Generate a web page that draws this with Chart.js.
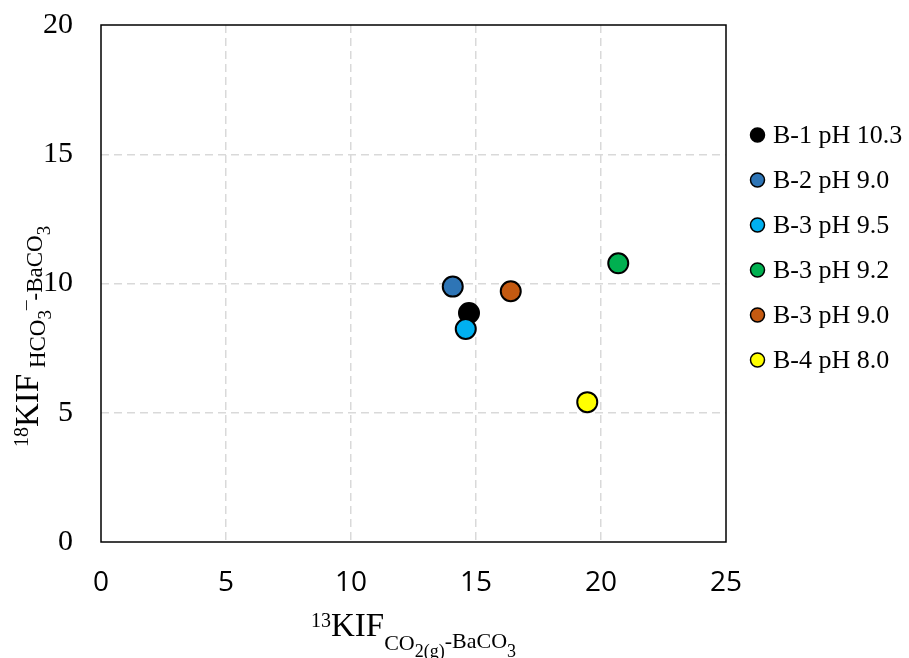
<!DOCTYPE html>
<html>
<head>
<meta charset="utf-8">
<script src="https://cdn.jsdelivr.net/npm/chart.js@4.4.0/dist/chart.umd.min.js"></script>
<style>
    body { margin: 0; background: #fff; }
    canvas { display: block; }
</style>
</head>
<body>
<canvas id="kifChart" width="909" height="658"></canvas>
<script>
const seriesLabels = ["B-1 pH 10.3", "B-2 pH 9.0", "B-3 pH 9.5", "B-3 pH 9.2", "B-3 pH 9.0", "B-4 pH 8.0"];
const kif13 = [14.72, 14.07, 14.59, 20.69, 16.39, 19.45];
const kif18 = [8.86, 9.88, 8.24, 10.78, 9.70, 5.41];
const seriesColors = ["#000000", "#2E75B6", "#00B0F0", "#00B050", "#C55A11", "#FFFF00"];

const serif = "'Liberation Serif', 'Times New Roman', serif";

// title pieces: [text, font size, baseline shift]
const xTitleParts = [
    ["13", 20, -9], ["KIF", 33, 0], ["CO", 22, 14], ["2(g)", 18, 21], ["-BaCO", 22, 12], ["3", 18, 21]
];
const yTitleParts = [
    ["18", 20, -10], ["KIF", 33, 0], [" HCO", 23, 7], ["3", 19, 13], ["\u00AF", 19, 2], ["-BaCO", 23, 4], ["3", 19, 12]
];

function drawParts(ctx, parts, x, y) {
    parts.forEach(([text, size, dy]) => {
        ctx.font = `${size}px ${serif}`;
        ctx.fillText(text, x, y + dy);
        x += ctx.measureText(text).width;
    });
}

function partsWidth(ctx, parts) {
    let w = 0;
    parts.forEach(([text, size]) => {
        ctx.font = `${size}px ${serif}`;
        w += ctx.measureText(text).width;
    });
    return w;
}

const decorPlugin = {
    id: "decor",
    afterDatasetsDraw(chart) {
        const { ctx, chartArea } = chart;
        ctx.save();
        ctx.strokeStyle = "#000";
        ctx.lineWidth = 1.5;
        ctx.strokeRect(chartArea.left, chartArea.top, chartArea.right - chartArea.left, chartArea.bottom - chartArea.top);

        ctx.fillStyle = "#000";
        ctx.textBaseline = "alphabetic";
        ctx.textAlign = "left";

        // x axis title
        const xw = partsWidth(ctx, xTitleParts);
        drawParts(ctx, xTitleParts, (chartArea.left + chartArea.right) / 2 - xw / 2, 636);

        // y axis title, rotated
        ctx.save();
        ctx.translate(38, 447);
        ctx.rotate(-Math.PI / 2);
        drawParts(ctx, yTitleParts, 0, 0);
        ctx.restore();

        // legend
        seriesLabels.forEach((label, i) => {
            const y = 135 + i * 45;
            ctx.beginPath();
            ctx.arc(757.5, y, 7, 0, Math.PI * 2);
            ctx.fillStyle = seriesColors[i];
            ctx.fill();
            ctx.lineWidth = 1.5;
            ctx.strokeStyle = "#000";
            ctx.stroke();
            ctx.fillStyle = "#000";
            ctx.font = `26px ${serif}`;
            ctx.textBaseline = "middle";
            ctx.fillText(label, 773, y + 1);
        });
        ctx.restore();
    }
};

const gridColor = (c) => (c.tick && (c.tick.value === 0 || c.index === c.scale.ticks.length - 1)) ? "rgba(0,0,0,0)" : "#D9D9D9";

const ctx = document.getElementById("kifChart").getContext("2d");
const kifChart = new Chart(ctx, {
    type: "scatter",
    data: {
        datasets: seriesLabels.map((label, i) => ({
            label: label,
            data: [{ x: kif13[i], y: kif18[i] }],
            backgroundColor: seriesColors[i],
            borderColor: "#000",
            borderWidth: 2,
            pointRadius: 10,
            pointHoverRadius: 10,
            order: -i
        }))
    },
    options: {
        responsive: false,
        animation: false,
        layout: { padding: { top: 25, right: 183, left: 0, bottom: 0 } },
        plugins: {
            legend: { display: false },
            tooltip: { enabled: false }
        },
        scales: {
            x: {
                min: 0,
                max: 25,
                border: { display: false, dash: [8, 5] },
                grid: { color: gridColor, lineWidth: 1.5, drawTicks: false },
                ticks: {
                    stepSize: 5,
                    padding: 24,
                    color: "#000",
                    font: { family: "'Open Sans', sans-serif", size: 28 }
                },
                afterFit(scale) {
                    scale.height = 116;
                    scale.paddingLeft = 0;
                    scale.paddingRight = 0;
                }
            },
            y: {
                min: 0,
                max: 20,
                border: { display: false, dash: [8, 5] },
                grid: { color: gridColor, lineWidth: 1.5, drawTicks: false },
                ticks: {
                    stepSize: 5,
                    padding: 28,
                    color: "#000",
                    font: { family: serif, size: 30 }
                },
                afterFit(scale) {
                    scale.width = 101;
                    scale.paddingTop = 0;
                    scale.paddingBottom = 0;
                }
            }
        }
    },
    plugins: [decorPlugin]
});
</script>
</body>
</html>
